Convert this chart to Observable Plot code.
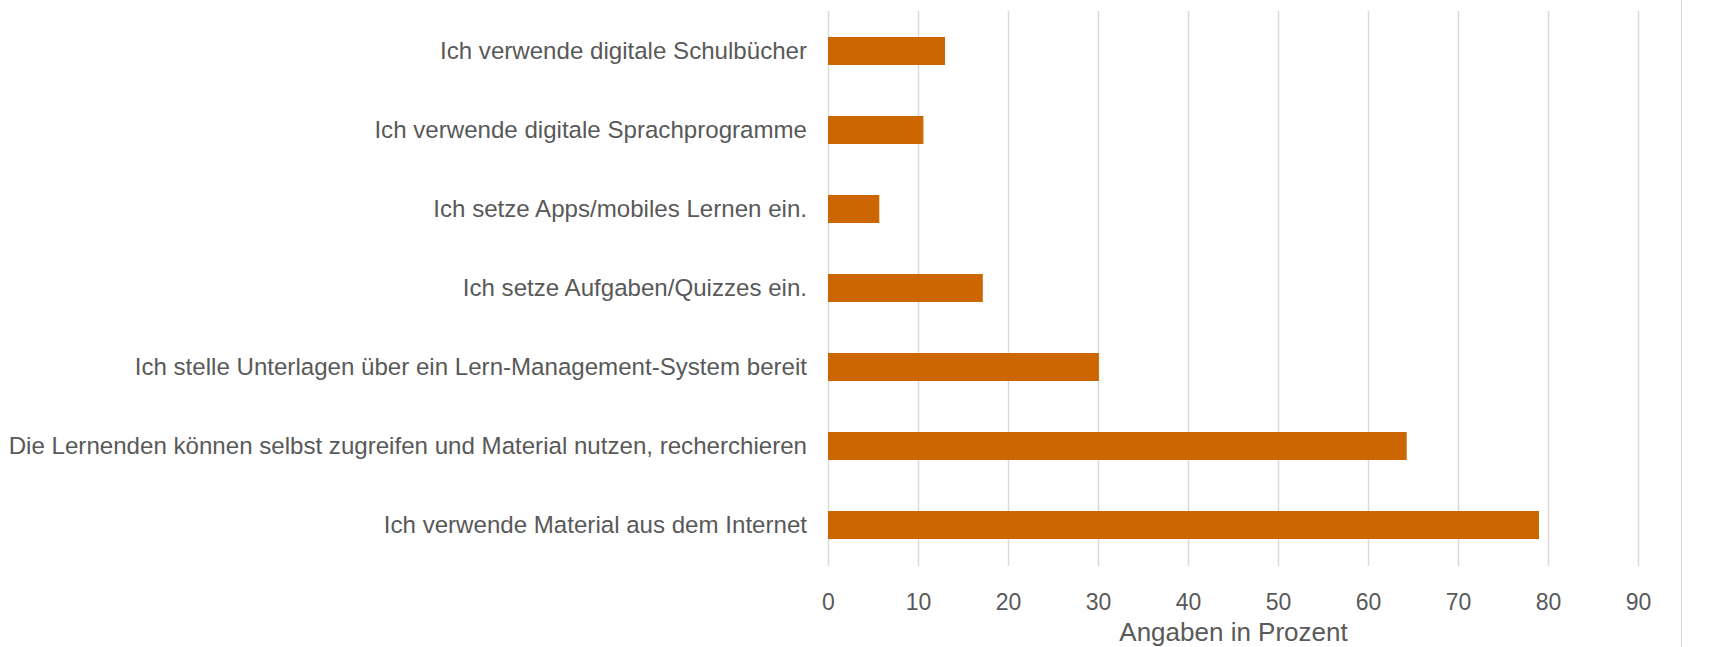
<!DOCTYPE html>
<html>
<head>
<meta charset="utf-8">
<script src="https://cdn.jsdelivr.net/npm/d3@7"></script>
<script src="https://cdn.jsdelivr.net/npm/@observablehq/plot@0.6"></script>
<style>
  html, body { margin: 0; padding: 0; background: #fff; }
  #chart svg { display: block; border-right: 1.5px solid #d9d9d9; }
</style>
</head>
<body>
<div id="chart"></div>
<script>
const categories = [
  "Ich verwende digitale Schulbücher",
  "Ich verwende digitale Sprachprogramme",
  "Ich setze Apps/mobiles Lernen ein.",
  "Ich setze Aufgaben/Quizzes ein.",
  "Ich stelle Unterlagen über ein Lern-Management-System bereit",
  "Die Lernenden können selbst zugreifen und Material nutzen, recherchieren",
  "Ich verwende Material aus dem Internet"
];
const values = [13.0, 10.6, 5.7, 17.2, 30.1, 64.3, 79.0];
const xTicks = [0, 10, 20, 30, 40, 50, 60, 70, 80, 90];
const axisTitle = "Angaben in Prozent";

const data = categories.map((c, i) => ({category: c, value: values[i]}));

const chart = Plot.plot({
  width: 1681,
  height: 647,
  marginLeft: 828,
  marginRight: 43,
  marginTop: 11,
  marginBottom: 81,
  style: {fontFamily: "'Liberation Sans', Arial, sans-serif", color: "#595959", background: "#fff"},
  x: {domain: [0, 90]},
  y: {domain: categories, paddingInner: 0.643, paddingOuter: 0.3215},
  marks: [
    Plot.gridX(xTicks, {stroke: "#d9d9d9", strokeOpacity: 1, strokeWidth: 1.5}),
    Plot.barX(data, {y: "category", x: "value", fill: "#CC6600"}),
    Plot.axisY({tickSize: 0, tickPadding: 21.5, fontSize: 24.1, label: null}),
    Plot.axisX(xTicks, {tickSize: 0, tickPadding: 27, fontSize: 23, label: null}),
    Plot.axisX([], {label: axisTitle, labelAnchor: "center", labelArrow: "none", labelOffset: 74, fontSize: 26, tickSize: 0})
  ]
});
document.getElementById("chart").appendChild(chart);
</script>
</body>
</html>
